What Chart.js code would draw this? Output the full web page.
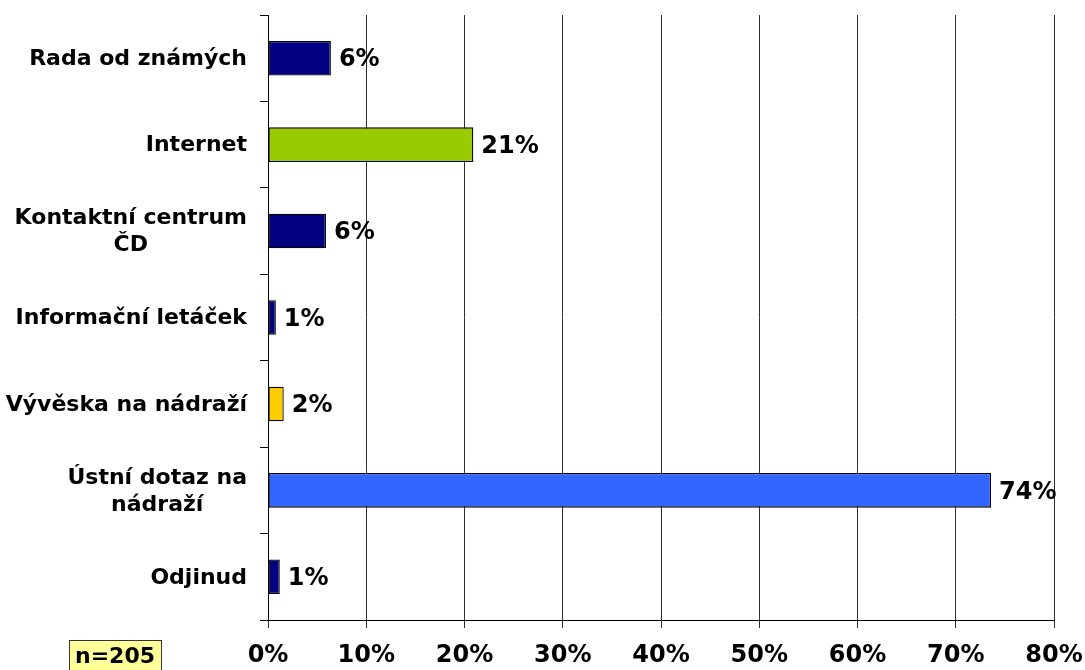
<!DOCTYPE html>
<html>
<head>
<meta charset="utf-8">
<script src="https://cdn.jsdelivr.net/npm/chart.js@4"></script>
<style>
  html, body { margin: 0; padding: 0; background: #fff; }
  #wrap { width: 1085px; height: 670px; }
</style>
</head>
<body>
<div id="wrap"><canvas id="zdrojChart"></canvas></div>
<script>
/* ===== DATA ===== */
const categories = [
  ["Rada od známých"],
  ["Internet"],
  ["Kontaktní centrum", "ČD"],
  ["Informační letáček"],
  ["Vývěska na nádraží"],
  ["Ústní dotaz na", "nádraží"],
  ["Odjinud"]
];
const shares = [6.4, 20.9, 5.9, 0.8, 1.6, 73.6, 1.2];
const barColors = ["#000080", "#99CC00", "#000080", "#000080", "#FFCC00", "#3366FF", "#000080"];
const xTicks = [0, 10, 20, 30, 40, 50, 60, 70, 80];
const sampleNote = "n=205";

const FONT = "'DejaVu Sans', Verdana, sans-serif";

/* ===== POPISKY KATEGORII (zalomene radky na stred) ===== */
const categoryLabels = {
  id: "categoryLabels",
  afterDraw(chart) {
    const ctx = chart.ctx;
    const y = chart.scales.y;
    const right = chart.chartArea.left - 21;
    const lineH = 27;
    ctx.save();
    ctx.font = "bold 22px " + FONT;
    ctx.fillStyle = "#000";
    ctx.textBaseline = "middle";
    categories.forEach((lines, i) => {
      const cy = y.getPixelForValue(i) + 1;
      const top = cy - (lines.length - 1) * lineH / 2;
      if (lines.length === 1) {
        ctx.textAlign = "right";
        ctx.fillText(lines[0], right, top);
        return;
      }
      const w0 = ctx.measureText(lines[0]).width;
      ctx.textAlign = "center";
      lines.forEach((txt, k) => ctx.fillText(txt, right - w0 / 2, top + k * lineH));
    });
    ctx.restore();
  }
};

/* ===== HODNOTY U SLOUPCU + POZNAMKA n ===== */
const valueLabels = {
  id: "valueLabels",
  afterDatasetsDraw(chart) {
    const ctx = chart.ctx;
    const meta = chart.getDatasetMeta(0);
    ctx.save();
    ctx.font = "bold 24px " + FONT;
    ctx.fillStyle = "#000";
    ctx.textAlign = "left";
    ctx.textBaseline = "middle";
    meta.data.forEach((bar, i) => {
      ctx.fillText(Math.round(shares[i]) + "%", bar.x + 8, bar.y + 2);
    });

    // rameček n=205
    ctx.font = "bold 22px " + FONT;
    const tw = ctx.measureText(sampleNote).width;
    const bx = 69, by = 640, bw = tw + 12, bh = 34;
    ctx.fillStyle = "#FFFF99";
    ctx.fillRect(bx, by, bw, bh);
    ctx.strokeStyle = "#333";
    ctx.lineWidth = 1;
    ctx.strokeRect(bx + 0.5, by + 0.5, bw, bh);
    ctx.fillStyle = "#000";
    ctx.fillText(sampleNote, bx + 6, by + 17);
    ctx.restore();
  }
};

new Chart(document.getElementById("zdrojChart"), {
  type: "bar",
  data: {
    labels: categories,
    datasets: [{
      data: shares,
      backgroundColor: barColors,
      borderColor: "#000",
      borderWidth: 1.3,
      borderSkipped: false,
      barPercentage: 0.4,
      categoryPercentage: 1
    }]
  },
  options: {
    indexAxis: "y",
    responsive: true,
    maintainAspectRatio: false,
    animation: false,
    layout: { padding: { top: 15, right: 31, left: 0, bottom: 0 } },
    plugins: {
      legend: { display: false },
      tooltip: { enabled: false }
    },
    scales: {
      x: {
        min: 0,
        max: 80,
        afterBuildTicks: s => { s.ticks = xTicks.map(v => ({ value: v })); },
        grid: { color: "#303030", lineWidth: 1, tickLength: 8, drawTicks: true },
        border: { color: "#000", width: 1 },
        ticks: {
          color: "#000",
          font: { family: FONT, size: 24, weight: "bold" },
          padding: 13,
          maxRotation: 0,
          callback: v => v + "%"
        },
        afterFit: s => { s.height = 50; s.paddingLeft = 0; s.paddingRight = 0; }
      },
      y: {
        grid: { display: true, drawOnChartArea: false, offset: true, tickLength: 8, color: "#000" },
        border: { color: "#000", width: 1 },
        ticks: { display: false },
        afterFit: s => { s.width = 268; }
      }
    }
  },
  plugins: [categoryLabels, valueLabels]
});
</script>
</body>
</html>
